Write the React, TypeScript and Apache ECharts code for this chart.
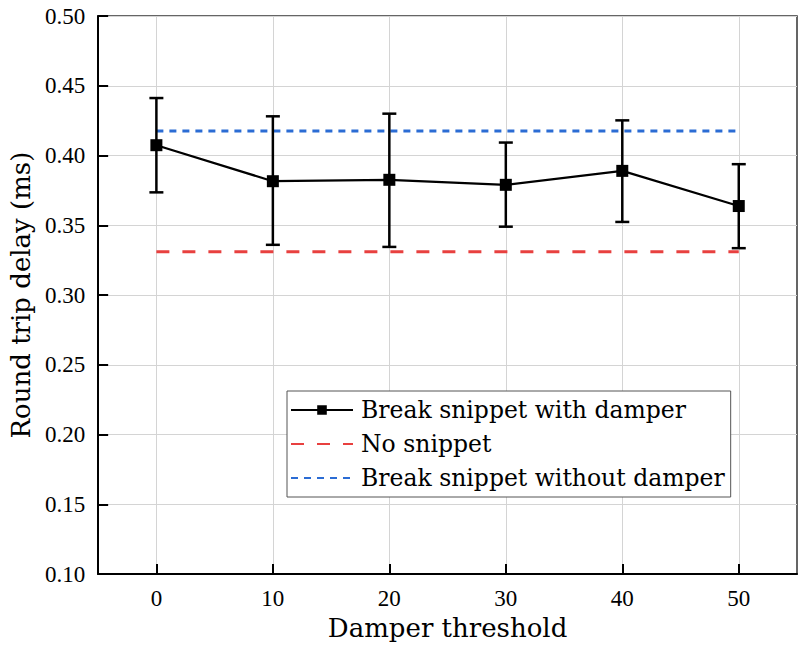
import React, { useEffect, useRef } from "react";
import * as echarts from "echarts";

const thresholds = [0, 10, 20, 30, 40, 50];
const delayWithDamper = [0.4074, 0.3816, 0.3826, 0.379, 0.389, 0.3638];
const errLow = [0.3736, 0.336, 0.3345, 0.349, 0.3524, 0.3336];
const errHigh = [0.4412, 0.4281, 0.43, 0.4093, 0.4252, 0.3938];
const noSnippet = 0.331;
const withoutDamper = 0.4176;
const xTicks = [0, 10, 20, 30, 40, 50];
const seriesNames = ["Break snippet with damper", "No snippet", "Break snippet without damper"];

export default function App() {
  const ref = useRef<HTMLDivElement>(null);
  useEffect(() => {
    if (!ref.current) return;
    const chart = echarts.init(ref.current, null, { renderer: "svg" });
    const tickFont = "Liberation Serif";
    const titleFont = "DejaVu Serif";
    const hiddenSymbol = { color: "rgba(0,0,0,0)", borderWidth: 0, opacity: 0 };
    const tickLabel = {
      fontFamily: tickFont,
      fontSize: 23,
      fontWeight: "normal",
      color: "#000",
    };
    chart.setOption({
      animation: false,
      backgroundColor: "#fff",
      textStyle: { fontFamily: tickFont },
      grid: {
        left: 98,
        right: 3,
        top: 16,
        bottom: 70,
        show: true,
        borderColor: "#333",
        borderWidth: 1.5,
        backgroundColor: "transparent",
      },
      legend: {
        orient: "vertical",
        left: 287,
        top: 391,
        data: [
          { name: seriesNames[0] },
          { name: seriesNames[1], itemStyle: hiddenSymbol },
          { name: seriesNames[2], itemStyle: hiddenSymbol },
        ],
        itemWidth: 62,
        itemHeight: 12,
        itemGap: 10,
        padding: [7, 6, 7, 3],
        borderColor: "#555",
        borderWidth: 1,
        backgroundColor: "#fff",
        textStyle: {
          fontFamily: titleFont,
          fontSize: 23.5,
          color: "#000",
          lineHeight: 24,
          padding: [0, 0, 0, 3],
        },
      },
      xAxis: {
        type: "value",
        min: -5,
        max: 55,
        name: "Damper threshold",
        nameLocation: "middle",
        nameGap: 40,
        nameTextStyle: { fontFamily: titleFont, fontSize: 26, color: "#000" },
        axisLine: { onZero: false, lineStyle: { color: "#000", width: 2 } },
        axisTick: {
          inside: true,
          length: 10,
          customValues: xTicks,
          lineStyle: { color: "#000", width: 2 },
        },
        axisLabel: {
          ...tickLabel,
          customValues: xTicks,
          margin: 13,
        },
        splitLine: { show: true, lineStyle: { color: "#d4d4d4", width: 1 } },
      },
      yAxis: {
        type: "value",
        min: 0.1,
        max: 0.5,
        interval: 0.05,
        name: "Round trip delay (ms)",
        nameLocation: "middle",
        nameGap: 62,
        nameTextStyle: { fontFamily: titleFont, fontSize: 26, color: "#000" },
        axisLine: { show: true, onZero: false, lineStyle: { color: "#000", width: 2 } },
        axisTick: { show: true, inside: true, length: 10, lineStyle: { color: "#000", width: 2 } },
        axisLabel: {
          ...tickLabel,
          margin: 13,
          formatter: (v: number) => v.toFixed(2),
        },
        splitLine: { show: true, lineStyle: { color: "#d4d4d4", width: 1 } },
      },
      series: [
        {
          type: "custom",
          name: "error",
          data: thresholds.map((x, i) => [x, errLow[i], errHigh[i]]),
          encode: { x: 0, y: [1, 2] },
          z: 3,
          renderItem: (params: any, api: any) => {
            const x = api.value(0);
            const lo = api.coord([x, api.value(1)]);
            const hi = api.coord([x, api.value(2)]);
            const hw = 7;
            const style = { stroke: "#000", lineWidth: 2.5 };
            return {
              type: "group",
              children: [
                { type: "line", shape: { x1: lo[0], y1: lo[1], x2: hi[0], y2: hi[1] }, style },
                { type: "line", shape: { x1: lo[0] - hw, y1: lo[1], x2: lo[0] + hw, y2: lo[1] }, style },
                { type: "line", shape: { x1: hi[0] - hw, y1: hi[1], x2: hi[0] + hw, y2: hi[1] }, style },
              ],
            };
          },
        },
        {
          type: "line",
          name: seriesNames[1],
          data: [
            [thresholds[0], noSnippet],
            [thresholds[thresholds.length - 1], noSnippet],
          ],
          symbol: "none",
          color: "#e8403f",
          lineStyle: { color: "#e8403f", width: 3, type: [13, 13] },
          z: 2,
        },
        {
          type: "line",
          name: seriesNames[2],
          data: [
            [thresholds[0], withoutDamper],
            [thresholds[thresholds.length - 1], withoutDamper],
          ],
          symbol: "none",
          color: "#2b6cd4",
          lineStyle: { color: "#2b6cd4", width: 3, type: [7, 6] },
          z: 2,
        },
        {
          type: "line",
          name: seriesNames[0],
          data: thresholds.map((x, i) => [x, delayWithDamper[i]]),
          symbol: "rect",
          symbolSize: 12,
          showSymbol: true,
          color: "#000",
          itemStyle: { color: "#000" },
          lineStyle: { color: "#000", width: 2.2 },
          z: 4,
        },
      ],
    });
    return () => chart.dispose();
  }, []);
  return <div ref={ref} style={{ width: 800, height: 646, position: "absolute", left: 0, top: 0 }} />;
}
